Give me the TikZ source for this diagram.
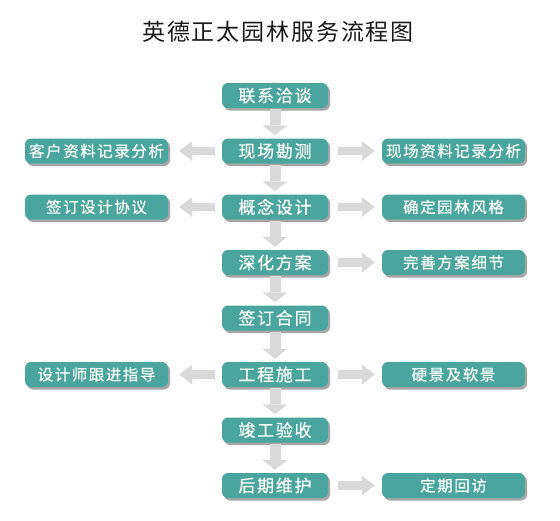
\documentclass[tikz,border=0pt]{standalone}
\usepackage{fontspec}
\newfontfamily\cjktitle[LetterSpace=8]{Noto Sans CJK SC}
\newfontfamily\cjkmain[LetterSpace=10,FakeBold=0.4]{Noto Sans CJK SC}
\newfontfamily\cjkside[LetterSpace=10,FakeBold=0.3]{Noto Sans CJK SC}
\usetikzlibrary{arrows.meta,shadows}
\definecolor{boxteal}{RGB}{74,165,158}
\definecolor{arrowgray}{RGB}{217,217,217}
\tikzset{
  basebox/.style={fill=boxteal, rounded corners=6pt, text=white, minimum height=25pt, inner sep=0pt,
    drop shadow={shadow xshift=2pt, shadow yshift=-2.5pt, fill=black, opacity=0.35}},
  mainbox/.style={basebox, minimum width=106pt, font=\cjkmain\fontsize{17}{17}\selectfont},
  sidebox/.style={basebox, minimum width=143pt, font=\cjkside\fontsize{15.5}{15.5}\selectfont},
  varrow/.style={draw=arrowgray, line width=11pt, -{Triangle[width=25pt,length=10pt,line width=0pt,fill=arrowgray]}},
  harrow/.style={draw=arrowgray, line width=8.5pt, -{Triangle[width=20pt,length=13pt,line width=0pt,fill=arrowgray]}}
}
\begin{document}
\begin{tikzpicture}[x=1pt,y=-1pt]
\useasboundingbox (0,0) rectangle (560,520);
\node[font=\cjktitle\fontsize{23}{23}\selectfont, text=black!90] (title) at (278,32) {英德正太园林服务流程图};
% main column
\node[mainbox] (m1) at (275,95.5) {联系洽谈};
\node[mainbox] (m2) at (275,151) {现场勘测};
\node[mainbox] (m3) at (275,207) {概念设计};
\node[mainbox] (m4) at (275,262.5) {深化方案};
\node[mainbox] (m5) at (275,318) {签订合同};
\node[mainbox] (m6) at (275,374.5) {工程施工};
\node[mainbox] (m7) at (275,430) {竣工验收};
\node[mainbox] (m8) at (275,485.5) {后期维护};
% left
\node[sidebox] (l2) at (96.5,151) {客户资料记录分析};
\node[sidebox] (l3) at (96.5,207) {签订设计协议};
\node[sidebox] (l6) at (96.5,374.5) {设计师跟进指导};
% right
\node[sidebox] (r2) at (453.5,151) {现场资料记录分析};
\node[sidebox] (r3) at (453.5,207) {确定园林风格};
\node[sidebox] (r4) at (453.5,262.5) {完善方案细节};
\node[sidebox] (r6) at (453.5,374.5) {硬景及软景};
\node[sidebox] (r8) at (453.5,485.5) {定期回访};
% down arrows
\foreach \a/\b in {m1/m2,m2/m3,m3/m4,m4/m5,m5/m6,m6/m7,m7/m8}
  \draw[varrow, shorten <=1pt, shorten >=3pt] (\a.south) -- (\b.north);
% right arrows
\foreach \a/\b in {m2/r2,m3/r3,m4/r4,m6/r6,m8/r8}
  \draw[harrow, shorten <=10pt, shorten >=7pt] (\a.east) -- (\b.west);
% left arrows
\foreach \a/\b in {m2/l2,m3/l3,m6/l6}
  \draw[harrow, shorten <=7pt, shorten >=11pt] (\a.west) -- (\b.east);
\end{tikzpicture}
\end{document}
